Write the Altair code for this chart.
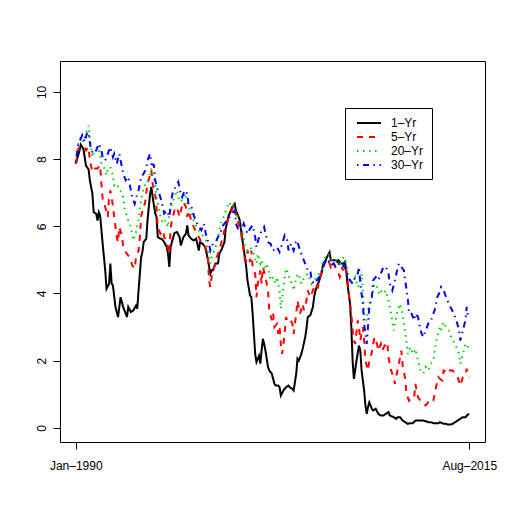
import altair as alt
import pandas as pd

# month offset from Jan-1990 (0) to Aug-2015 (307), yield in %
series_names = ["1–Yr", "5–Yr", "20–Yr", "30–Yr"]
series_colors = ["#000000", "#FF0000", "#00CD00", "#0000FF"]
series_dashes = [[1, 0], [6, 6], [1.5, 4.5], [1.5, 4.5, 6, 4.5]]
x_tick_values = [0, 307]
x_tick_labels = ["Jan–1990", "Aug–2015"]
y_tick_values = [0, 2, 4, 6, 8, 10]

one_yr = [
    (0, 7.86), (3, 8.26), (4, 8.43), (6, 8.3), (8, 7.8), (10, 7.7), (11, 7.37), (13, 6.97),
    (14, 6.42), (16, 6.37), (17, 6.17), (18, 6.42), (19, 6.33), (21, 5.48), (23, 4.69),
    (24, 4.14), (26, 4.29), (27, 4.89), (28, 4.29), (29, 4.24), (31, 3.6), (33, 3.3),
    (34, 3.6), (35, 3.89), (37, 3.6), (39, 3.4), (40, 3.3), (41, 3.6), (43, 3.45), (45, 3.5),
    (47, 3.64), (48, 3.55), (49, 4.09), (51, 5.08), (52, 5.23), (53, 5.53), (55, 5.63),
    (56, 6.18), (58, 6.97), (59, 7.17), (60, 6.87), (62, 6.38), (63, 6.28), (64, 5.68),
    (66, 5.63), (67, 5.63), (69, 5.53), (71, 5.38), (72, 5.18), (73, 4.79), (74, 5.38),
    (75, 5.53), (77, 5.8), (79, 5.83), (81, 5.68), (82, 5.43), (84, 5.68), (86, 5.78),
    (87, 6.03), (88, 5.73), (90, 5.63), (92, 5.58), (94, 5.63), (96, 5.28), (97, 5.53),
    (99, 5.48), (101, 5.38), (103, 5.03), (105, 4.59), (106, 4.69), (107, 4.69), (109, 4.89),
    (111, 4.89), (112, 5.18), (114, 5.33), (116, 5.53), (117, 5.93), (119, 6.28), (121, 6.47),
    (122, 6.57), (124, 6.67), (125, 6.47), (126, 6.38), (128, 6.18), (129, 5.88), (131, 5.33),
    (132, 5.08), (133, 4.79), (134, 4.39), (136, 3.94), (137, 3.89), (138, 3.4), (139, 2.8),
    (140, 2.2), (141, 1.96), (143, 2.15), (144, 1.91), (145, 2.3), (146, 2.65), (147, 2.5),
    (148, 2.3), (150, 1.81), (151, 1.71), (153, 1.61), (155, 1.31), (156, 1.26), (158, 1.26),
    (159, 1.21), (160, 0.96), (162, 1.11), (164, 1.21), (166, 1.26), (167, 1.21), (169, 1.16),
    (170, 1.11), (172, 1.61), (173, 2.06), (174, 2.0), (176, 2.2), (177, 2.35), (179, 2.7),
    (180, 2.95), (181, 3.3), (183, 3.35), (185, 3.6), (186, 3.89), (187, 4.09), (189, 4.29),
    (190, 4.39), (192, 4.64), (193, 4.89), (195, 4.99), (196, 5.08), (198, 5.23), (199, 4.99),
    (201, 4.99), (203, 4.99), (204, 4.94), (205, 4.99), (207, 4.89), (209, 4.89), (210, 4.94),
    (211, 4.69), (212, 4.29), (214, 3.69), (215, 3.0), (216, 2.0), (217, 1.46), (218, 1.71),
    (219, 2.0), (221, 2.45), (222, 2.3), (223, 1.71), (225, 1.11), (226, 0.67), (227, 0.42),
    (228, 0.62), (229, 0.76), (231, 0.57), (232, 0.52), (234, 0.57), (236, 0.42), (238, 0.37),
    (240, 0.37), (242, 0.42), (244, 0.47), (245, 0.37), (248, 0.32), (250, 0.27), (251, 0.32),
    (253, 0.32), (255, 0.22), (257, 0.17), (259, 0.12), (261, 0.14), (263, 0.14), (265, 0.22),
    (267, 0.22), (269, 0.22), (271, 0.22), (273, 0.2), (275, 0.17), (277, 0.17), (279, 0.14),
    (281, 0.14), (283, 0.14), (284, 0.17), (287, 0.12), (289, 0.12), (290, 0.1), (292, 0.1),
    (294, 0.12), (296, 0.17), (298, 0.22), (300, 0.27), (302, 0.32), (304, 0.32), (306, 0.4),
    (307, 0.42),
]

five_yr = [
    (0, 7.86), (2, 8.3), (4, 8.4), (6, 8.4), (8, 8.26), (10, 8.36), (11, 7.96), (13, 7.62),
    (15, 7.72), (17, 7.72), (19, 7.82), (20, 7.27), (21, 6.82), (23, 6.57), (25, 6.28),
    (26, 6.87), (27, 7.07), (29, 6.62), (30, 6.28), (32, 5.68), (33, 5.53), (34, 5.98),
    (36, 5.73), (37, 5.38), (39, 5.23), (41, 5.13), (43, 4.99), (44, 4.84), (46, 4.74),
    (47, 5.08), (49, 5.28), (50, 5.68), (51, 6.28), (53, 6.62), (54, 6.67), (55, 6.97),
    (56, 7.27), (58, 7.52), (59, 7.67), (60, 7.27), (62, 6.92), (63, 6.57), (64, 5.98),
    (66, 5.78), (68, 5.88), (69, 5.68), (71, 5.53), (73, 5.18), (74, 5.93), (75, 6.18),
    (77, 6.47), (79, 6.57), (81, 6.28), (82, 6.47), (84, 6.72), (86, 6.57), (87, 6.28),
    (88, 6.47), (90, 6.18), (92, 5.98), (94, 5.83), (96, 5.68), (98, 5.53), (99, 5.48),
    (101, 5.38), (103, 5.18), (104, 4.39), (105, 4.19), (106, 4.49), (107, 4.69), (109, 4.89),
    (110, 5.08), (112, 5.28), (114, 5.58), (116, 5.88), (118, 6.08), (119, 6.23), (121, 6.33),
    (122, 6.52), (124, 6.62), (125, 6.33), (127, 6.08), (129, 5.78), (131, 5.28), (132, 4.99),
    (133, 4.99), (134, 5.28), (136, 4.94), (137, 5.28), (138, 4.79), (140, 4.59), (141, 3.89),
    (142, 4.29), (144, 4.69), (145, 4.29), (146, 4.79), (148, 4.49), (150, 4.09), (151, 3.5),
    (153, 3.2), (154, 3.4), (155, 3.0), (157, 3.1), (158, 2.8), (159, 3.0), (160, 2.5),
    (161, 2.2), (163, 2.8), (164, 3.3), (165, 3.2), (167, 3.25), (169, 3.1), (170, 2.8),
    (172, 3.4), (173, 3.79), (175, 3.4), (177, 3.69), (178, 3.5), (180, 3.79), (181, 4.09),
    (183, 3.89), (185, 4.09), (187, 4.29), (189, 4.19), (190, 4.39), (192, 4.64), (194, 4.89),
    (196, 5.03), (197, 4.99), (199, 4.79), (201, 4.94), (203, 4.74), (204, 4.69), (206, 4.49),
    (208, 4.79), (209, 4.59), (211, 4.69), (212, 4.39), (213, 3.99), (215, 3.4), (216, 2.9),
    (217, 2.6), (218, 2.5), (220, 3.2), (221, 3.0), (222, 2.6), (224, 3.0), (225, 2.6),
    (226, 2.0), (228, 1.71), (229, 2.0), (230, 2.1), (231, 2.25), (233, 2.7), (235, 2.5),
    (236, 2.3), (238, 2.5), (239, 2.3), (241, 2.45), (243, 2.55), (244, 2.1), (246, 1.71),
    (248, 1.51), (249, 1.31), (251, 1.71), (253, 2.1), (254, 2.3), (255, 1.86), (257, 1.46),
    (258, 1.01), (260, 0.81), (262, 0.91), (264, 0.91), (265, 1.31), (267, 0.91), (269, 0.81),
    (271, 0.72), (273, 0.67), (275, 0.76), (277, 0.72), (279, 0.81), (280, 1.01), (281, 1.21),
    (283, 1.51), (284, 1.46), (286, 1.41), (287, 1.71), (289, 1.66), (291, 1.76), (292, 1.71),
    (294, 1.71), (296, 1.61), (298, 1.51), (300, 1.26), (302, 1.51), (304, 1.56), (305, 1.76),
    (307, 1.51),
]

twenty_yr = [
    (0, 7.9), (2, 8.46), (4, 8.66), (6, 8.51), (8, 8.76), (10, 9.0), (11, 8.61), (13, 8.06),
    (15, 8.26), (17, 8.36), (19, 8.16), (20, 7.86), (22, 7.77), (24, 7.52), (25, 7.67),
    (27, 7.77), (29, 7.52), (30, 7.22), (32, 7.27), (34, 7.07), (36, 7.02), (37, 6.87),
    (38, 6.57), (40, 6.28), (42, 6.08), (43, 5.98), (45, 5.58), (47, 5.83), (49, 6.18),
    (50, 6.57), (52, 6.97), (53, 7.17), (55, 7.27), (57, 7.42), (59, 7.72), (60, 7.52),
    (62, 7.27), (63, 6.87), (65, 6.52), (66, 6.28), (68, 6.08), (70, 6.18), (72, 5.98),
    (73, 6.38), (75, 6.67), (77, 6.87), (79, 7.07), (80, 6.87), (82, 6.72), (84, 6.87),
    (86, 6.97), (87, 6.67), (89, 6.47), (91, 6.28), (92, 6.18), (94, 5.98), (96, 5.88),
    (98, 5.78), (100, 5.68), (102, 5.53), (103, 5.28), (105, 4.89), (106, 5.08), (107, 5.18),
    (109, 5.38), (111, 5.68), (112, 5.88), (114, 6.18), (116, 6.33), (118, 6.57), (120, 6.72),
    (121, 6.57), (123, 6.62), (125, 6.38), (127, 6.23), (129, 6.03), (131, 5.68), (132, 5.38),
    (134, 5.28), (136, 5.38), (138, 5.28), (139, 5.18), (141, 4.89), (142, 5.18), (144, 4.89),
    (145, 4.99), (147, 4.69), (149, 4.89), (151, 4.59), (152, 4.39), (154, 4.49), (156, 4.29),
    (157, 4.49), (159, 4.09), (160, 3.55), (162, 4.19), (164, 4.74), (166, 4.59), (167, 4.39),
    (169, 4.29), (170, 4.09), (172, 4.49), (174, 4.59), (176, 4.29), (177, 4.39), (179, 4.49),
    (181, 4.59), (183, 4.39), (184, 4.29), (186, 4.39), (188, 4.49), (190, 4.59), (192, 4.69),
    (193, 4.89), (195, 5.13), (197, 5.18), (199, 5.03), (201, 4.94), (203, 4.99), (204, 4.99),
    (206, 4.89), (208, 5.03), (209, 5.08), (211, 4.89), (213, 4.49), (215, 4.29), (216, 4.39),
    (218, 4.49), (220, 4.19), (222, 4.29), (223, 4.59), (224, 4.09), (225, 3.4), (227, 3.2),
    (228, 3.5), (229, 3.69), (231, 3.89), (232, 4.09), (233, 4.29), (235, 4.19), (237, 3.99),
    (238, 4.09), (240, 3.99), (242, 4.09), (244, 3.79), (246, 3.4), (248, 2.9), (249, 3.1),
    (251, 3.5), (253, 3.69), (255, 3.4), (256, 3.1), (258, 2.6), (259, 2.2), (261, 2.4),
    (263, 2.2), (265, 2.35), (267, 2.0), (269, 1.71), (271, 1.61), (273, 1.81), (275, 1.71),
    (277, 1.91), (279, 2.0), (280, 2.3), (282, 2.7), (284, 3.0), (285, 2.9), (287, 3.15),
    (289, 3.0), (291, 2.9), (293, 2.7), (295, 2.55), (297, 2.4), (299, 2.2), (300, 1.91),
    (302, 2.2), (304, 2.5), (305, 2.5), (307, 2.3),
]

thirty_yr = [
    (0, 7.9), (2, 8.46), (4, 8.61), (5, 8.71), (7, 8.51), (9, 8.81), (10, 8.76), (12, 8.26),
    (14, 8.16), (16, 8.26), (18, 8.46), (20, 8.26), (21, 8.06), (23, 7.96), (25, 8.16),
    (27, 8.36), (29, 8.06), (30, 8.16), (32, 7.86), (34, 8.16), (36, 7.77), (37, 7.57),
    (39, 7.37), (41, 7.47), (43, 7.07), (44, 6.87), (46, 6.67), (48, 6.97), (49, 7.07),
    (51, 7.47), (53, 7.57), (55, 7.72), (56, 7.96), (58, 8.16), (59, 7.86), (61, 7.82),
    (62, 7.37), (64, 7.07), (66, 6.87), (68, 6.57), (69, 6.38), (71, 6.47), (73, 6.28),
    (75, 6.87), (76, 7.07), (78, 7.17), (80, 7.32), (82, 6.97), (83, 6.87), (85, 7.07),
    (87, 6.97), (88, 6.67), (90, 6.62), (92, 6.33), (94, 6.13), (96, 5.98), (98, 5.88),
    (100, 6.08), (102, 5.68), (104, 5.48), (105, 5.28), (107, 5.48), (109, 5.53), (111, 5.68),
    (113, 5.78), (114, 5.98), (116, 6.08), (118, 6.18), (120, 6.28), (122, 6.38), (124, 6.47),
    (125, 6.08), (127, 5.88), (129, 5.83), (131, 6.08), (132, 5.98), (134, 5.78), (136, 5.93),
    (138, 6.03), (140, 5.68), (141, 5.38), (143, 5.68), (145, 5.88), (147, 5.98), (148, 5.78),
    (150, 5.53), (152, 5.48), (154, 5.28), (156, 5.33), (157, 5.38), (159, 5.23), (161, 5.48),
    (163, 5.73), (165, 5.58), (166, 5.28), (168, 5.48), (170, 5.28), (172, 5.58), (173, 5.53),
    (175, 5.28), (177, 5.08), (179, 4.89), (181, 4.69), (183, 4.69), (184, 4.39), (186, 4.29),
    (188, 4.39), (190, 4.49), (192, 4.69), (194, 4.89), (196, 5.03), (197, 4.99), (199, 4.84),
    (201, 4.89), (203, 4.79), (205, 4.89), (207, 4.79), (209, 4.84), (211, 4.69), (212, 4.49),
    (214, 4.39), (216, 4.29), (218, 4.49), (220, 4.59), (221, 4.79), (222, 4.29), (224, 3.69),
    (225, 3.1), (227, 2.5), (228, 3.0), (229, 3.6), (231, 3.89), (232, 4.39), (234, 4.49),
    (236, 4.39), (238, 4.59), (240, 4.79), (242, 4.79), (244, 4.59), (245, 4.29), (247, 4.09),
    (249, 4.39), (251, 4.74), (252, 4.89), (254, 4.79), (256, 4.69), (257, 4.39), (259, 3.89),
    (260, 3.4), (262, 3.4), (264, 3.2), (265, 3.4), (267, 3.3), (269, 2.9), (271, 2.7),
    (273, 2.9), (275, 3.1), (277, 3.15), (278, 3.3), (280, 3.5), (282, 3.89), (284, 4.04),
    (285, 4.19), (287, 4.09), (289, 3.89), (291, 3.69), (293, 3.55), (295, 3.4), (297, 3.2),
    (299, 2.9), (300, 2.6), (302, 2.9), (304, 3.2), (305, 3.6), (306, 3.3), (307, 3.25),
]

rows = []
for name, pts in zip(series_names, [one_yr, five_yr, twenty_yr, thirty_yr]):
    for m, v in pts:
        rows.append({"series": name, "month": m, "rate": v})
df = pd.DataFrame(rows)

FONT = "Liberation Sans"
x_label_expr = (
    f"datum.value == {x_tick_values[0]} ? '{x_tick_labels[0]}' : '{x_tick_labels[1]}'"
)

legend = alt.Legend(
    title=None,
    orient="none",
    legendX=285,
    legendY=47,
    strokeColor="black",
    padding=8,
    symbolOffset=9,
    symbolType="M-2,0H2",
    symbolSize=144,
    symbolStrokeWidth=2,
    labelFont=FONT,
    labelFontSize=12,
    labelColor="black",
    labelOffset=15,
    rowPadding=1,
)

chart = (
    alt.Chart(df)
    .mark_line(strokeWidth=2, strokeCap="butt", clip=True)
    .encode(
        x=alt.X(
            "month:Q",
            scale=alt.Scale(domain=[-12.28, 319.28], nice=False, zero=False),
            axis=alt.Axis(
                values=x_tick_values,
                labelExpr=x_label_expr,
                title=None,
                grid=False,
                domain=False,
                tickSize=7,
                labelPadding=11,
                labelFlush=False,
                labelOverlap=False,
            ),
        ),
        y=alt.Y(
            "rate:Q",
            scale=alt.Scale(domain=[-0.42, 10.92], nice=False, zero=False),
            axis=alt.Axis(
                values=y_tick_values,
                title=None,
                grid=False,
                domain=False,
                tickSize=7,
                labelAngle=270,
                labelAlign="center",
                labelBaseline="alphabetic",
                labelPadding=8,
                labelFlush=False,
                labelOverlap=False,
            ),
        ),
        color=alt.Color(
            "series:N",
            scale=alt.Scale(domain=series_names, range=series_colors),
            legend=legend,
            sort=series_names,
        ),
        strokeDash=alt.StrokeDash(
            "series:N",
            scale=alt.Scale(domain=series_names, range=series_dashes),
            legend=legend,
            sort=series_names,
        ),
        order=alt.Order("month:Q"),
    )
    .properties(
        width=425,
        height=381,
        autosize=alt.AutoSizeParams(type="none"),
        padding={"left": 52, "top": 53, "right": 24, "bottom": 67},
    )
    .configure_view(stroke="black", strokeWidth=1)
    .configure_axis(
        labelFont=FONT,
        labelFontSize=12,
        labelColor="black",
        tickColor="black",
        tickWidth=1,
    )
)

chart.save("out.html", embed_options={"renderer": "svg", "actions": False})
